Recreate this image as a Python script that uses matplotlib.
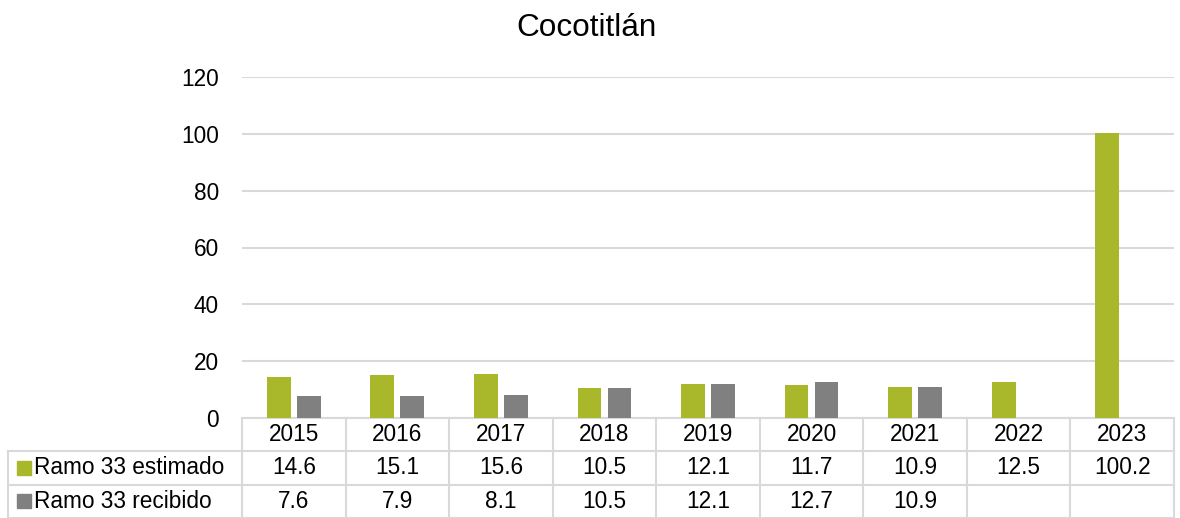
import matplotlib.pyplot as plt
import numpy as np

plt.rcParams['font.family'] = ['Liberation Sans', 'DejaVu Sans']

years = ['2015', '2016', '2017', '2018', '2019', '2020', '2021', '2022', '2023']
estimado = [14.6, 15.1, 15.6, 10.5, 12.1, 11.7, 10.9, 12.5, 100.2]
recibido = [7.6, 7.9, 8.1, 10.5, 12.1, 12.7, 10.9, None, None]
series_names = ['Ramo 33 estimado', 'Ramo 33 recibido']
colors = ['#A9B82A', '#808080']
grid_col = '#D9D9D9'
fs = 16.3

fig = plt.figure(figsize=(11.8, 5.18), dpi=100)
ax = fig.add_axes([242 / 1180, 100 / 518, 932 / 1180, 341 / 518])

x = np.arange(len(years))
w = 0.23
off = 0.145
ax.bar(x - off, estimado, w, color=colors[0], zorder=3)
rx = [i for i, v in enumerate(recibido) if v is not None]
rv = [v for v in recibido if v is not None]
ax.bar(np.array(rx) + off, rv, w, color=colors[1], zorder=3)

ax.set_xlim(-0.5, len(years) - 0.5)
ax.set_ylim(0, 120)
ax.set_yticks(range(0, 121, 20))
ax.yaxis.grid(True, color=grid_col, linewidth=1.5, zorder=0)
ax.set_xticks([])
ax.tick_params(axis='y', length=0, pad=16.5, labelsize=fs)
for s in ['top', 'right', 'left', 'bottom']:
    ax.spines[s].set_visible(False)

fig.text(0.497, 1 - 28 / 518, 'Cocotitlán', ha='center', va='center', fontsize=22.7)

# data table below the axes
rh = 33.3 / 341
tr = ax.get_xaxis_transform()
lw = 1.5
left_ax = -234 / 932  # row label column start, axes fraction
fx = ax.transAxes

# horizontal lines
ax.plot([0, 1], [0, 0], transform=fx, color=grid_col, lw=lw, clip_on=False)
for k in (1, 2, 3):
    ax.plot([left_ax, 1], [-k * rh, -k * rh], transform=fx, color=grid_col, lw=lw, clip_on=False)
# vertical lines
for b in np.arange(-0.5, len(years) + 0.5, 1.0):
    ax.plot([b, b], [0, -3 * rh], transform=tr, color=grid_col, lw=lw, clip_on=False)
ax.plot([left_ax, left_ax], [-rh, -3 * rh], transform=fx, color=grid_col, lw=lw, clip_on=False)

for i, yr in enumerate(years):
    ax.text(i, -0.5 * rh, yr, transform=tr, ha='center', va='center', fontsize=fs)
    ax.text(i, -1.5 * rh, f'{estimado[i]:.1f}', transform=tr, ha='center', va='center', fontsize=fs)
    if recibido[i] is not None:
        ax.text(i, -2.5 * rh, f'{recibido[i]:.1f}', transform=tr, ha='center', va='center', fontsize=fs)

for k, (name, c) in enumerate(zip(series_names, colors)):
    yy = -(1.5 + k) * rh
    ax.plot([-217.5 / 932], [yy], transform=fx, marker='s', markersize=9.5,
            color=c, linestyle='none', clip_on=False)
    ax.text(-208 / 932, yy, name, transform=fx, ha='left', va='center', fontsize=fs)

fig.savefig('out.png', dpi=100)
